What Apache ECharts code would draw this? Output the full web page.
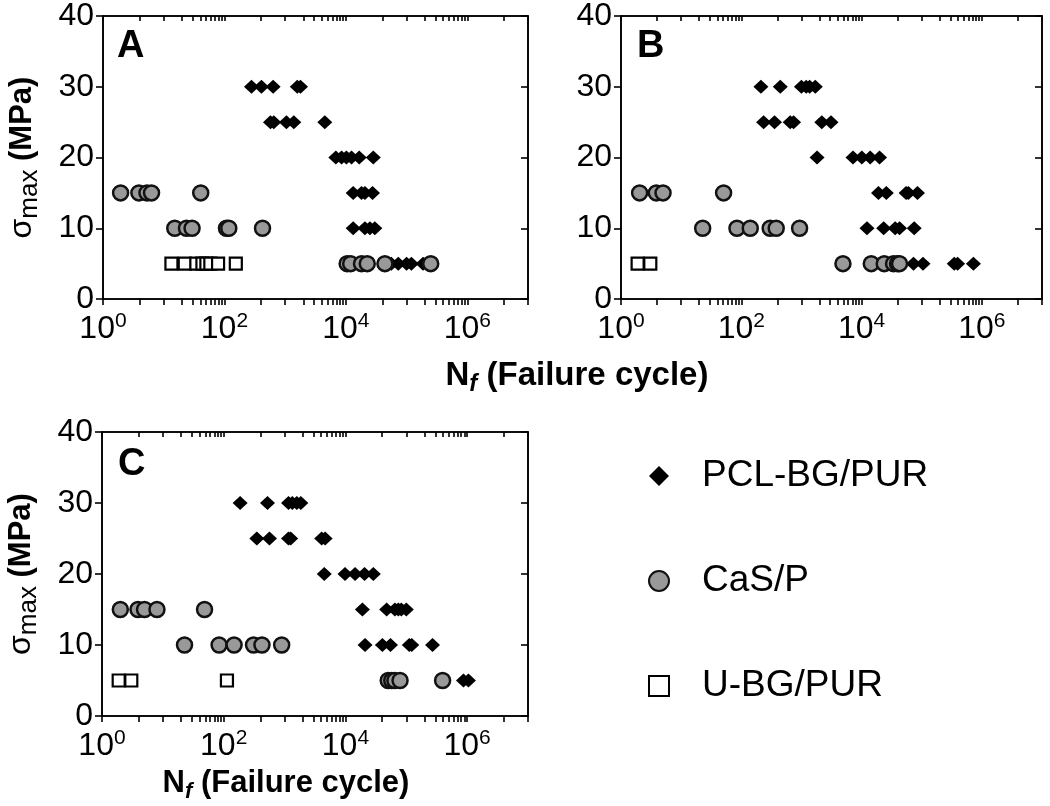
<!DOCTYPE html>
<html><head><meta charset="utf-8">
<script src="https://cdn.jsdelivr.net/npm/echarts@6/dist/echarts.min.js"></script>
<style>html,body{margin:0;padding:0;background:#fff}#c{width:1050px;height:806px}</style>
</head><body><div id="c"></div><script>
// ---------- data: [N_f (failure cycles), sigma_max (MPa)] ----------
const seriesNames = ['PCL-BG/PUR', 'CaS/P', 'U-BG/PUR'];
const panelLabels = ['A', 'B', 'C'];
const yTicks = [0, 10, 20, 30, 40];
const xTickExponents = [0, 2, 4, 6];
const xTickValues = [
  1, 4, 10, 20, 30, 40, 50, 60, 70, 80, 90,
  100, 400, 1000, 2000, 3000, 4000, 5000, 6000, 7000, 8000, 9000,
  1e4, 4e4, 1e5, 2e5, 3e5, 4e5, 5e5, 6e5, 7e5, 8e5, 9e5,
  1e6, 4e6, 1e7
];

const A_PCL = [
  [279,30],[407,30],[634,30],[1585,30],[1790,30],
  [573,25],[650,25],[1050,25],[1390,25],[4500,25],
  [6840,20],[8500,20],[10200,20],[12400,20],[16600,20],[28300,20],
  [13200,15],[18100,15],[20600,15],[27500,15],
  [13200,10],[20600,10],[24900,10],[30000,10],
  [44000,5],[56000,5],[73000,5],[100000,5],[120000,5],[187000,5],[228000,5]
];
const A_CAS = [
  [1.95,15],[3.9,15],[5.3,15],[6.3,15],[40.7,15],
  [15.2,10],[23.7,10],[29.3,10],[108,10],[118,10],[424,10],
  [10500,5],[12000,5],[18100,5],[22500,5],[44000,5],[250000,5]
];
const A_UBG = [
  [13.4,5],[22.2,5],[34.5,5],[43.4,5],[50.4,5],[58.6,5],[78.6,5],[154,5]
];

const B_PCL = [
  [212,30],[445,30],[1000,30],[1200,30],[1370,30],[1700,30],
  [235,25],[357,25],[650,25],[740,25],[2180,25],[3100,25],
  [1820,20],[7200,20],[10100,20],[13900,20],[19900,20],
  [19100,15],[25800,15],[55000,15],[60000,15],[85000,15],
  [12300,10],[23300,10],[36200,10],[42800,10],[75000,10],
  [42800,5],[73000,5],[105000,5],[347000,5],[395000,5],[724000,5]
];
const B_CAS = [
  [2.04,15],[3.86,15],[5.0,15],[50.8,15],
  [22.8,10],[84.7,10],[141,10],[302,10],[381,10],[932,10],
  [4900,5],[14500,5],[23800,5],[34000,5],[39600,5],[42800,5]
];
const B_UBG = [[1.89,5],[3.07,5]];

const C_PCL = [
  [186,30],[524,30],[1160,30],[1340,30],[1590,30],[1850,30],
  [350,25],[565,25],[1160,25],[1260,25],[4070,25],[4640,25],
  [4490,20],[9840,20],[14400,20],[20600,20],[28700,20],
  [19000,15],[47600,15],[65000,15],[74000,15],[83000,15],[100000,15],
  [21000,10],[40500,10],[55000,10],[112000,10],[123000,10],[270000,10],
  [870000,5],[1050000,5]
];
const C_CAS = [
  [2.0,15],[3.9,15],[5.0,15],[8.0,15],[48.4,15],
  [22.7,10],[84,10],[148,10],[309,10],[425,10],[896,10],
  [50500,5],[57700,5],[65000,5],[79000,5],[395000,5]
];
const C_UBG = [[1.88,5],[3.03,5],[113,5]];

const panels = [
  [A_PCL, A_CAS, A_UBG],
  [B_PCL, B_CAS, B_UBG],
  [C_PCL, C_CAS, C_UBG]
];

// ---------- styling ----------
const FONT = '"Liberation Sans", Arial, Helvetica, sans-serif';
const grids = [
  {left: 103, top: 16, width: 425, height: 283},
  {left: 621, top: 16, width: 421, height: 283},
  {left: 102, top: 432, width: 426, height: 284}
].map(g => Object.assign(g, {show: true, borderColor: '#000', borderWidth: 1.6, backgroundColor: 'transparent'}));

const markerStyles = [
  {symbol: 'diamond', symbolSize: [15, 14], itemStyle: {color: '#000', borderWidth: 0, opacity: 1}},
  {symbol: 'circle', symbolSize: 15, itemStyle: {color: '#999999', borderColor: '#111', borderWidth: 2.5, opacity: 1}},
  {symbol: 'rect', symbolSize: 12, itemStyle: {color: '#fff', borderColor: '#000', borderWidth: 2.2, opacity: 1}}
];

function xFmt(v) {
  const lg = Math.log10(v);
  const e = Math.round(lg);
  if (xTickExponents.indexOf(e) >= 0 && Math.abs(lg - e) < 1e-6) {
    return '{b|10}{s|' + e + '}';
  }
  return '';
}
const lineSt = {color: '#000', width: 1.6};

const xAxes = [], yAxes = [];
grids.forEach((g, i) => {
  xAxes.push({
    type: 'log', logBase: 10, gridIndex: i, min: 1, max: 1e7,
    position: 'bottom',
    axisLine: {show: true, onZero: false, lineStyle: lineSt},
    axisTick: {show: true, length: 6, customValues: xTickValues, lineStyle: lineSt},
    minorTick: {show: false},
    splitLine: {show: false}, minorSplitLine: {show: false},
    axisLabel: {
      show: true, margin: 12, formatter: xFmt, interval: 0,
      rich: {
        b: {fontSize: 32, fontFamily: FONT, color: '#000', lineHeight: 36},
        s: {fontSize: 21, fontFamily: FONT, color: '#000', lineHeight: 21, verticalAlign: 'top'}
      }
    }
  });
});
grids.forEach((g, i) => {
  xAxes.push({
    type: 'log', logBase: 10, gridIndex: i, min: 1, max: 1e7,
    position: 'top',
    axisLine: {show: true, onZero: false, lineStyle: lineSt},
    axisTick: {show: true, inside: true, length: 5, customValues: xTickValues, lineStyle: lineSt},
    minorTick: {show: false},
    splitLine: {show: false}, minorSplitLine: {show: false},
    axisLabel: {show: false}
  });
});
const yName = '{s|σ}{m|max}{b| (MPa)}';
const yNameRich = {
  s: {fontSize: 32, fontFamily: FONT, color: '#000', lineHeight: 42},
  m: {fontSize: 26, fontFamily: FONT, color: '#000', lineHeight: 26, verticalAlign: 'bottom'},
  b: {fontSize: 31, fontFamily: FONT, fontWeight: 'bold', color: '#000', lineHeight: 42}
};
grids.forEach((g, i) => {
  yAxes.push({
    type: 'value', gridIndex: i, min: yTicks[0], max: yTicks[yTicks.length - 1], interval: 10,
    position: 'left',
    name: i === 1 ? '' : yName,
    nameLocation: 'middle', nameRotate: 90, nameGap: 60,
    nameTextStyle: {rich: yNameRich},
    axisLine: {show: true, onZero: false, lineStyle: lineSt},
    axisTick: {show: true, length: 7, lineStyle: lineSt},
    splitLine: {show: false},
    axisLabel: {margin: 9, fontSize: 32, fontFamily: FONT, color: '#000'}
  });
});
grids.forEach((g, i) => {
  yAxes.push({
    type: 'value', gridIndex: i, min: 0, max: 40, interval: 10,
    position: 'right',
    axisLine: {show: true, onZero: false, lineStyle: lineSt},
    axisTick: {show: true, inside: true, length: 7, lineStyle: lineSt},
    splitLine: {show: false},
    axisLabel: {show: false}
  });
});

const series = [];
panels.forEach((p, i) => {
  p.forEach((data, k) => {
    series.push(Object.assign({
      type: 'scatter', name: seriesNames[k], xAxisIndex: i, yAxisIndex: i,
      data: data, z: 2 + k
    }, markerStyles[k]));
  });
});

const titleRich = {
  n: {fontSize: 33, fontFamily: FONT, fontWeight: 'bold', fill: '#000', lineHeight: 40},
  f: {fontSize: 24, fontFamily: FONT, fontWeight: 'bold', fontStyle: 'italic', fill: '#000', lineHeight: 24, verticalAlign: 'bottom'},
  t: {fontSize: 33, fontFamily: FONT, fontWeight: 'bold', fill: '#000', lineHeight: 40}
};
const titleText = '{n|N}{f|f}{t| (Failure cycle)}';
const letterPos = [[117, 47], [637, 47], [118, 465]];

const graphic = [
  {type: 'text', x: 577, y: 376, style: {text: titleText, rich: titleRich, align: 'center', verticalAlign: 'middle'}},
  {type: 'text', x: 286, y: 783, style: {text: titleText, rich: {
    n: Object.assign({}, titleRich.n, {fontSize: 31}),
    f: Object.assign({}, titleRich.f, {fontSize: 22}),
    t: Object.assign({}, titleRich.t, {fontSize: 31})
  }, align: 'center', verticalAlign: 'middle'}}
];
panelLabels.forEach((L, i) => {
  graphic.push({type: 'text', x: letterPos[i][0], y: letterPos[i][1],
    style: {text: L, fontSize: 38, fontWeight: 'bold', fontFamily: FONT, fill: '#000', align: 'left', verticalAlign: 'middle'}});
});

const chart = echarts.init(document.getElementById('c'), null, {renderer: 'canvas'});
chart.setOption({
  animation: false,
  backgroundColor: '#fff',
  grid: grids,
  xAxis: xAxes,
  yAxis: yAxes,
  legend: {
    orient: 'vertical', left: 643, top: 451, itemWidth: 20, itemHeight: 20, itemGap: 65,
    data: seriesNames, selectedMode: false,
    textStyle: {fontSize: 37, fontFamily: FONT, color: '#000', lineHeight: 40, padding: [0, 0, 0, 28]}
  },
  graphic: graphic,
  series: series
});
</script></body></html>
